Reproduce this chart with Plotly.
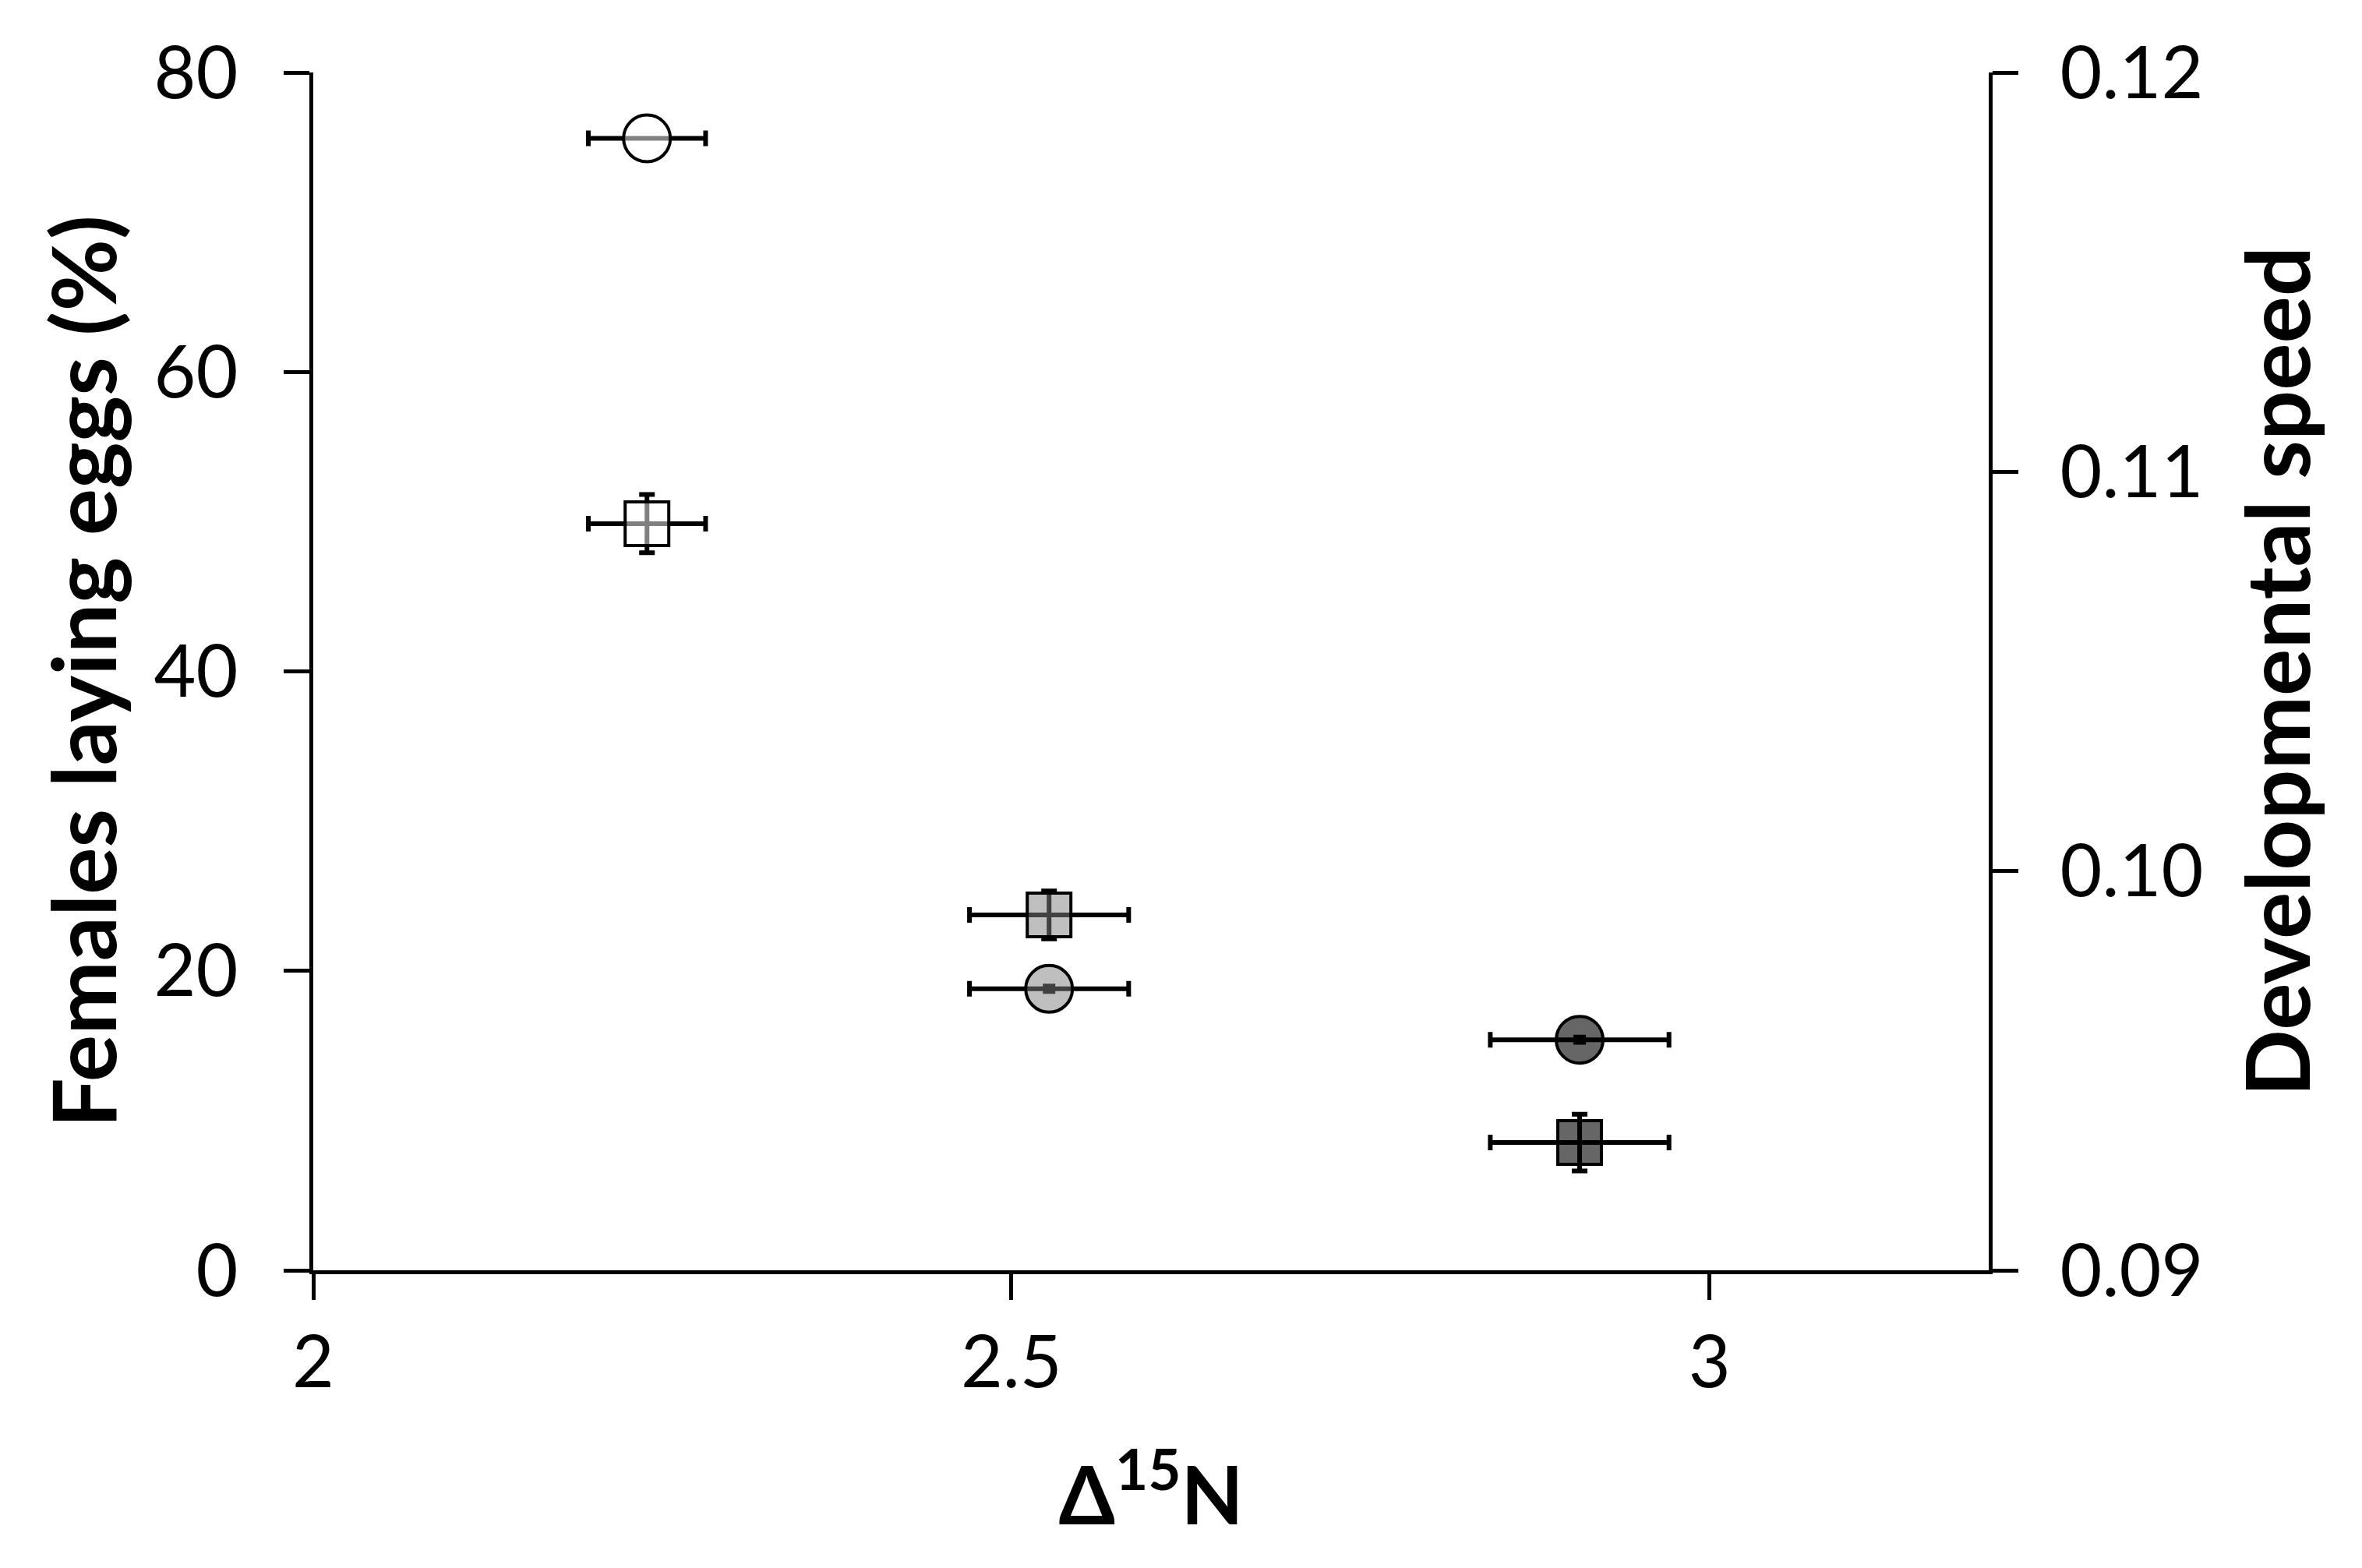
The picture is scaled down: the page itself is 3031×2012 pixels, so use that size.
import plotly.graph_objects as go

# Data
groups = ["low", "mid", "high"]
delta15n = [2.239, 2.527, 2.907]
delta15n_err = [0.042, 0.057, 0.064]

females_laying_eggs = [75.6, 18.8, 15.4]          # circles, left axis (%)
females_err = [0.0, 0.18, 0.18]

developmental_speed = [0.1087, 0.0989, 0.0932]     # squares, right axis
speed_err = [0.00073, 0.0006, 0.00071]

circle_fill = ["rgba(255,255,255,0.5)", "rgba(128,128,128,0.5)", "rgba(0,0,0,0.6)"]
square_fill = ["rgba(255,255,255,0.5)", "rgba(128,128,128,0.5)", "rgba(0,0,0,0.6)"]

left_ticks = [0, 20, 40, 60, 80]
right_ticks = [0.09, 0.10, 0.11, 0.12]
x_ticks = [2, 2.5, 3]

FONT = "Lato"
fig = go.Figure()

for i in range(len(groups)):
    fig.add_trace(go.Scatter(
        x=[delta15n[i]], y=[females_laying_eggs[i]], mode="markers",
        marker=dict(symbol="circle", size=60, color=circle_fill[i],
                    line=dict(color="black", width=4)),
        error_x=dict(type="data", array=[delta15n_err[i]], color="black", thickness=6, width=10),
        error_y=dict(type="data", array=[females_err[i]], color="black", thickness=6, width=8,
                     visible=females_err[i] > 0),
        yaxis="y", showlegend=False, hoverinfo="skip"))

for i in range(len(groups)):
    fig.add_trace(go.Scatter(
        x=[delta15n[i]], y=[developmental_speed[i]], mode="markers",
        marker=dict(symbol="square", size=56, color=square_fill[i],
                    line=dict(color="black", width=4)),
        error_x=dict(type="data", array=[delta15n_err[i]], color="black", thickness=6, width=10),
        error_y=dict(type="data", array=[speed_err[i]], color="black", thickness=6, width=10),
        yaxis="y2", showlegend=False, hoverinfo="skip"))

axis_common = dict(showgrid=False, zeroline=False, showline=True, linecolor="black",
                   linewidth=5, ticks="outside", ticklen=33, tickwidth=5, tickcolor="black",
                   tickfont=dict(family=FONT, size=93, color="black"))

fig.update_layout(
    width=3031, height=2012,
    margin=dict(l=394, r=487, t=85, b=390),
    paper_bgcolor="white", plot_bgcolor="white",
    xaxis=dict(range=[2, 3.2], tickvals=x_ticks, ticktext=["2", "2.5", "3"],
               title=dict(text="<b>Δ<sup>15</sup>N</b>", font=dict(family=FONT, size=104, color="black"),
                          standoff=86),
               **axis_common),
    yaxis=dict(range=[0, 80], tickvals=left_ticks, ticklabelstandoff=40,
               title=dict(text="<b>Females laying eggs (%)</b>", font=dict(family=FONT, size=113, color="black"),
                          standoff=11),
               **axis_common),
    yaxis2=dict(range=[0.09, 0.12], tickvals=right_ticks, tickformat=".2f",
                overlaying="y", side="right", ticklabelstandoff=35,
                title=dict(text="<b>Developmental speed</b>", font=dict(family=FONT, size=113, color="black"),
                           standoff=60),
                **axis_common),
)

fig.write_html("out.html")
